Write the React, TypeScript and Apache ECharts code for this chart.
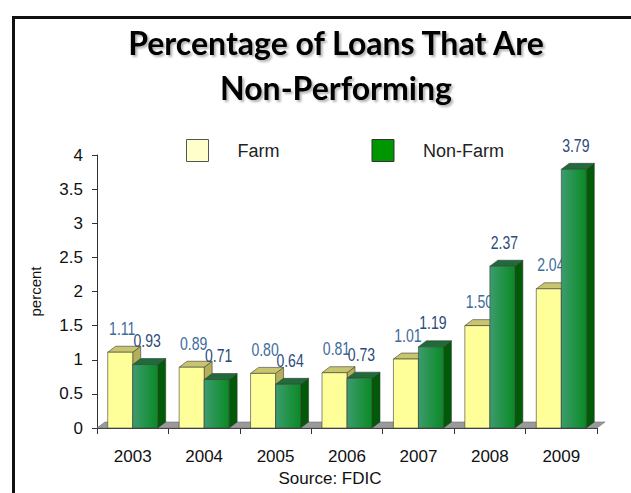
import React, { useEffect, useRef } from "react";
import * as echarts from "echarts";

const years = ["2003", "2004", "2005", "2006", "2007", "2008", "2009"];
const farm = [1.11, 0.89, 0.8, 0.81, 1.01, 1.5, 2.04];
const nonFarm = [0.93, 0.71, 0.64, 0.73, 1.19, 2.37, 3.79];
const yTicks = { min: 0, max: 4, interval: 0.5 };

const DX = 8;
const DY = 6;
const BW = 25;

type Palette = { front: any; top: string; side: string; label: string };

const farmPal: Palette = { front: "#FFFF99", top: "#C9C56E", side: "#B3AF5A", label: "#3d6c9c" };
const nonPal: Palette = {
  front: new echarts.graphic.LinearGradient(0, 0, 1, 0, [
    { offset: 0, color: "#3C9C6E" },
    { offset: 1, color: "#0A8A24" },
  ]),
  top: "#1F6C3A",
  side: "#005A08",
  label: "#2c4a7a",
};

function makeRender(sideIdx: number, pal: Palette) {
  return (params: any, api: any) => {
    const i = api.value(0);
    const v = api.value(1);
    const top = api.coord([i, v]);
    const base = api.coord([i, 0]);
    const cx = top[0];
    const x0 = sideIdx === 0 ? cx - BW : cx;
    const x1 = x0 + BW;
    const yT = top[1];
    const yB = base[1];
    const stroke = "#3a3a3a";
    return {
      type: "group",
      children: [
        {
          type: "polygon",
          shape: { points: [[x1, yT], [x1 + DX, yT - DY], [x1 + DX, yB - DY], [x1, yB]] },
          style: { fill: pal.side, stroke, lineWidth: 0.6 },
        },
        {
          type: "polygon",
          shape: { points: [[x0, yT], [x1, yT], [x1 + DX, yT - DY], [x0 + DX, yT - DY]] },
          style: { fill: pal.top, stroke, lineWidth: 0.6 },
        },
        {
          type: "rect",
          shape: { x: x0, y: yT, width: BW, height: yB - yT },
          style: { fill: pal.front, stroke, lineWidth: 0.6 },
        },
        {
          type: "text",
          x: x0 + BW / 2 + DX / 2 - 2,
          y: yT - DY - 9,
          scaleX: 0.78,
          style: {
            text: v.toFixed(2),
            x: 0,
            y: 0,
            textAlign: "center",
            textVerticalAlign: "bottom",
            fill: pal.label,
            font: '18px "Liberation Sans Narrow", "Liberation Sans", Arial, sans-serif',
          },
        },
      ],
    };
  };
}

function renderFloor(params: any, api: any) {
  const cs = params.coordSys;
  const x0 = cs.x;
  const x1 = cs.x + cs.width;
  const yB = api.coord([0, 0])[1];
  return {
    type: "polygon",
    shape: { points: [[x0, yB], [x1, yB], [x1 + DX, yB - DY], [x0 + DX, yB - DY]] },
    style: { fill: "#9a9a9a", stroke: "#6e6e6e", lineWidth: 0.6 },
  };
}

export default function App() {
  const ref = useRef<HTMLDivElement>(null);
  useEffect(() => {
    if (!ref.current) return;
    const chart = echarts.init(ref.current, null, { renderer: "svg" });
    chart.setOption({
      animation: false,
      backgroundColor: "#ffffff",
      title: {
        text: "Percentage of Loans That Are\nNon-Performing",
        left: 331,
        top: 15,
        textAlign: "center",
        textStyle: {
          fontFamily: "Lato, 'Open Sans', sans-serif",
          fontWeight: "bold",
          fontSize: 32,
          lineHeight: 45,
          color: "#000",
          textShadowColor: "rgba(0,0,0,0.3)",
          textShadowBlur: 2,
          textShadowOffsetX: 2,
          textShadowOffsetY: 2,
        },
      },
      legend: {
        left: 181,
        top: 134,
        itemWidth: 22,
        itemHeight: 22,
        itemGap: 92,
        textStyle: {
          fontFamily: "'Liberation Sans', Arial, sans-serif",
          fontSize: 18,
          color: "#222",
          padding: [0, 0, 0, 24],
        },
        data: [
          { name: "Farm", icon: "rect", itemStyle: { color: "#FFFFCC", borderColor: "#555", borderWidth: 1 } },
          { name: "Non-Farm", icon: "rect", itemStyle: { color: "#009600", borderColor: "#333", borderWidth: 1 } },
        ],
      },
      grid: { left: 97, right: 34, top: 155, bottom: 65 },
      xAxis: {
        type: "category",
        data: years,
        axisLine: { lineStyle: { color: "#333", width: 1 } },
        axisTick: { show: true, length: 6, lineStyle: { color: "#333" } },
        axisLabel: {
          margin: 20,
          fontSize: 17,
          color: "#111",
          fontFamily: "'Liberation Sans', Arial, sans-serif",
        },
      },
      yAxis: {
        type: "value",
        min: yTicks.min,
        max: yTicks.max,
        interval: yTicks.interval,
        name: "percent",
        nameLocation: "middle",
        nameRotate: 90,
        nameGap: 54,
        nameTextStyle: {
          fontSize: 15,
          color: "#111",
          fontFamily: "'Liberation Sans', Arial, sans-serif",
        },
        axisLine: { show: true, lineStyle: { color: "#333", width: 1 } },
        axisTick: { show: true, length: 5, lineStyle: { color: "#333" } },
        splitLine: { show: false },
        axisLabel: {
          margin: 14,
          fontSize: 17,
          color: "#111",
          fontFamily: "'Liberation Sans', Arial, sans-serif",
        },
      },
      graphic: [
        {
          type: "rect",
          left: 11,
          top: 15,
          shape: { width: 700, height: 600 },
          style: { fill: "none", stroke: "#111", lineWidth: 3 },
          silent: true,
        },
        {
          type: "text",
          x: 330,
          y: 470,
          style: {
            text: "Source: FDIC",
            textAlign: "center",
            textVerticalAlign: "top",
            fill: "#111",
            font: "17px 'Liberation Sans', Arial, sans-serif",
          },
        },
      ],
      series: [
        {
          type: "custom",
          name: "floor",
          renderItem: renderFloor,
          data: [[0, 0]],
          z: 1,
          silent: true,
        },
        {
          type: "custom",
          name: "Farm",
          renderItem: makeRender(0, farmPal),
          data: farm.map((v, i) => [i, v]),
          itemStyle: { color: "#FFFFCC" },
          z: 2,
        },
        {
          type: "custom",
          name: "Non-Farm",
          renderItem: makeRender(1, nonPal),
          data: nonFarm.map((v, i) => [i, v]),
          itemStyle: { color: "#009600" },
          z: 3,
        },
      ],
    });
    return () => chart.dispose();
  }, []);
  return (
    <div
      ref={ref}
      style={{ position: "fixed", left: 0, top: 0, width: 631, height: 493 }}
    />
  );
}
